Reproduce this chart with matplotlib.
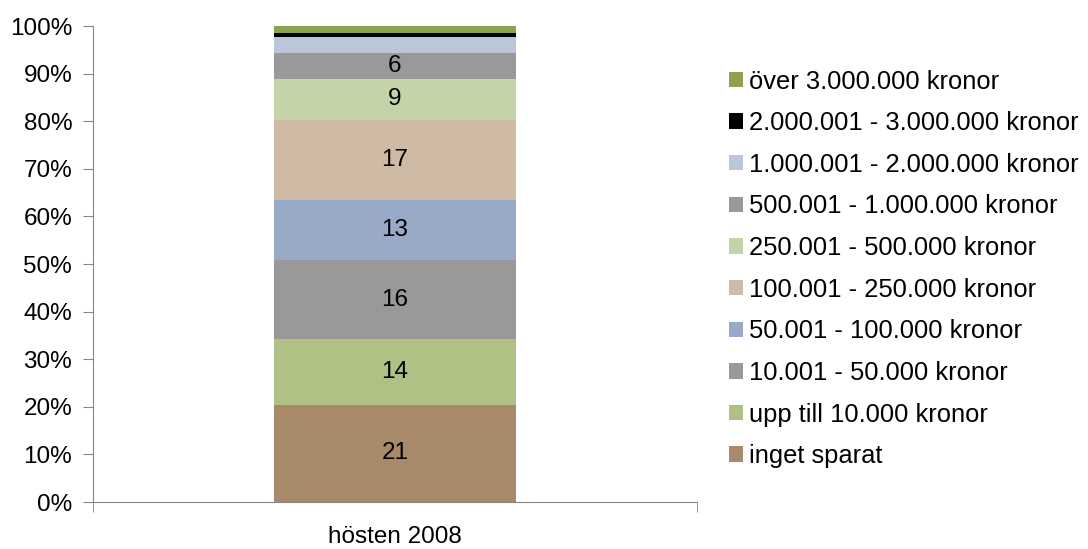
import matplotlib.pyplot as plt
from matplotlib.patches import Patch

plt.rcParams['font.family'] = ['Liberation Sans', 'DejaVu Sans']

# kategorier (nedifrån och upp)
kategorier = ['inget sparat', 'upp till 10.000 kronor', '10.001 - 50.000 kronor',
              '50.001 - 100.000 kronor', '100.001 - 250.000 kronor',
              '250.001 - 500.000 kronor', '500.001 - 1.000.000 kronor',
              '1.000.001 - 2.000.000 kronor', '2.000.001 - 3.000.000 kronor',
              'över 3.000.000 kronor']
andel = [20.4, 13.9, 16.5, 12.6, 16.8, 8.8, 5.4, 3.4, 0.84, 1.4]
etiketter = ['21', '14', '16', '13', '17', '9', '6', '', '', '']
farger = ['#A8896A', '#B0C186', '#999999', '#98AAC8', '#CFBAA6',
          '#C5D4A8', '#999999', '#BAC6DA', '#000000', '#8EA350']
period = 'hösten 2008'

fs = 17.5

fig = plt.figure(figsize=(10.88, 5.49), dpi=100)
ax = fig.add_axes([0.0855, 0.0856, 0.555, 0.867])

total = sum(andel)
botten = 0
for v, lab, c in zip(andel, etiketter, farger):
    h = v / total * 100
    ax.bar(0, h, bottom=botten, width=0.4, color=c)
    if lab:
        ax.text(0, botten + h / 2, lab, ha='center', va='center', fontsize=fs)
    botten += h

ax.set_xlim(-0.5, 0.5)
ax.set_ylim(0, 100)
ax.set_yticks(range(0, 101, 10))
ax.set_yticklabels([f'{t}%' for t in range(0, 101, 10)], fontsize=fs)
ax.set_xticks([0])
ax.set_xticklabels([period], fontsize=fs)
ax.tick_params(axis='x', length=0, pad=17)
ax.set_xticks([-0.5, 0.5], minor=True)
ax.tick_params(axis='x', which='minor', length=7, color='#868686')
ax.tick_params(axis='y', length=7, color='#868686', pad=8)
for s in ['top', 'right']:
    ax.spines[s].set_visible(False)
for s in ['left', 'bottom']:
    ax.spines[s].set_color('#868686')

handles = [Patch(facecolor=c, label=k) for k, c in zip(kategorier, farger)][::-1]
fig.legend(handles=handles, loc='upper left', bbox_to_anchor=(0.661, 0.892),
           frameon=False, fontsize=18.4, handlelength=0.55, handleheight=0.55,
           handletextpad=0.22, labelspacing=0.69, borderaxespad=0)

fig.savefig('out.png', dpi=100)
